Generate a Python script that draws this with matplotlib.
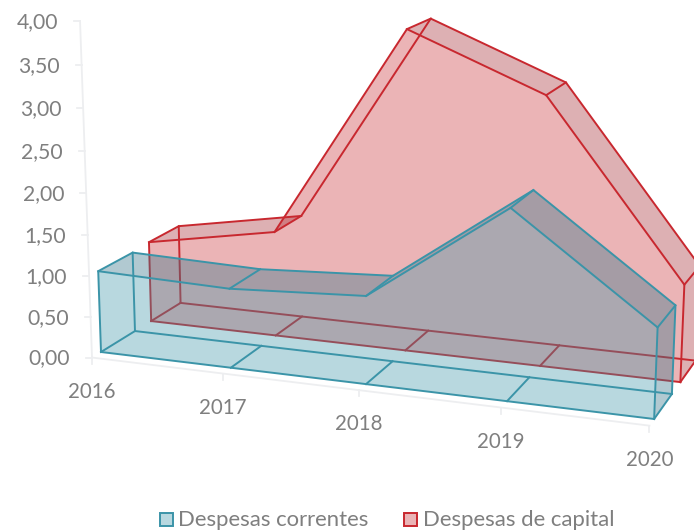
import numpy as np
import matplotlib
matplotlib.use('Agg')
import matplotlib.pyplot as plt
from matplotlib.patches import Rectangle

plt.rcParams['font.family'] = ['Lato', 'DejaVu Sans']

# values
anos = ['2016', '2017', '2018', '2019', '2020']
correntes = [1.00, 0.96, 1.05, 2.23, 1.05]
capital = [1.02, 1.31, 3.89, 3.24, 1.17]
y_ticks = [0, 0.5, 1, 1.5, 2, 2.5, 3, 3.5, 4]

# depth slots of the 3d chart (front, back)
prof_correntes = (0, 1)
prof_capital = (1.5, 2.45)
prof_eixo = -0.254

# perspective matrix: (ano, profundidade, valor, 1) -> pixel
P = np.array([[125.2, 38.4, -3.8, 101.0],
              [8.37, -10.1, -83.65, 352.0],
              [-0.02, 0.0328, -0.0104, 1.0]])


def proj(i, d, v):
    i, d, v = np.broadcast_arrays(i, d, v)
    q = np.stack([i, d, v, np.ones(i.shape)], axis=0).astype(float)
    xh = P @ q
    return xh[0] / xh[2], xh[1] / xh[2]


def area3d(ax, vals, prof, edge, fill, a_fill, band, a_band, z):
    idx = np.arange(len(vals))
    vals = np.array(vals)
    d0, d1 = prof
    fx, fy = proj(idx, d0, vals)
    bx, by = proj(idx, d1, vals)
    fx0, fy0 = proj(idx, d0, 0)
    bx0, by0 = proj(idx, d1, 0)

    # front face
    ax.fill(np.r_[fx, fx0[::-1]], np.r_[fy, fy0[::-1]], color=fill, alpha=a_fill, lw=0, zorder=z)
    # top bands, only where they stick out of the front face
    for k in idx[:-1]:
        mx = (bx[k] + bx[k + 1]) / 2
        my = (by[k] + by[k + 1]) / 2
        if mx < fx[-1] and my > np.interp(mx, fx, fy):
            continue
        ax.fill([fx[k], fx[k + 1], bx[k + 1], bx[k]], [fy[k], fy[k + 1], by[k + 1], by[k]],
                color=band, alpha=a_band, lw=0, zorder=z)
    # right side
    ax.fill([fx[-1], bx[-1], bx0[-1], fx0[-1]], [fy[-1], by[-1], by0[-1], fy0[-1]],
            color=band, alpha=a_band, lw=0, zorder=z)

    lw = 1.4
    # back outline first
    ax.plot(np.r_[bx0[0], bx, bx0[-1]], np.r_[by0[0], by, by0[-1]], color=edge, lw=lw, zorder=z)
    ax.plot(bx0, by0, color=edge, lw=lw, zorder=z)
    # depth lines
    for k in idx:
        ax.plot([fx[k], bx[k]], [fy[k], by[k]], color=edge, lw=lw, zorder=z)
        ax.plot([fx0[k], bx0[k]], [fy0[k], by0[k]], color=edge, lw=lw, zorder=z)
    # front outline
    ax.plot(np.r_[fx0[0], fx, fx0[-1]], np.r_[fy0[0], fy, fy0[-1]], color=edge, lw=lw, zorder=z)
    ax.plot(fx0, fy0, color=edge, lw=lw, zorder=z)


fig = plt.figure(figsize=(6.94, 5.30), dpi=100)
ax = fig.add_axes([0, 0, 1, 1])
ax.set_xlim(0, 694)
ax.set_ylim(530, 0)
ax.axis('off')

cinza = '#7F7F7F'
parede = '#EDEEF0'

# axis lines
ex, ey = proj(0, prof_eixo, np.array([0, 4]))
ax.plot(ex, ey, color=parede, lw=1.3)
ex, ey = proj(np.arange(len(anos)), prof_eixo, 0)
ax.plot(ex, ey, color=parede, lw=1.3)

for v in y_ticks:
    tx, ty = proj(0, prof_eixo, v)
    ax.plot([tx - 6, tx], [ty, ty], color=parede, lw=1.3)
    ax.text(tx - 22, ty + 1, f'{v:.2f}'.replace('.', ','), color=cinza, fontsize=15.2,
            ha='right', va='center')

for k, ano in enumerate(anos):
    tx, ty = proj(k, prof_eixo, 0)
    ax.plot([tx, tx], [ty, ty + 6], color=parede, lw=1.3)
    ax.text(tx, ty + 34, ano, color=cinza, fontsize=14.8, ha='center', va='center')

vermelho = '#C8282F'
azul = '#3B94A8'
area3d(ax, capital, prof_capital, vermelho, vermelho, 0.35, '#9E1D26', 0.35, 3)
area3d(ax, correntes, prof_correntes, azul, azul, 0.36, '#3C788C', 0.40, 4)

# legend
ax.add_patch(Rectangle((160, 512.5), 13, 13, fc='#B8D8E0', ec=azul, lw=1.4))
ax.text(178, 520, 'Despesas correntes', color=cinza, fontsize=15.9, va='center', ha='left')
ax.add_patch(Rectangle((404.5, 512.5), 13, 13, fc='#EAB4B6', ec=vermelho, lw=1.4))
ax.text(423, 520, 'Despesas de capital', color=cinza, fontsize=15.9, va='center', ha='left')

fig.savefig('out.png', dpi=100)
